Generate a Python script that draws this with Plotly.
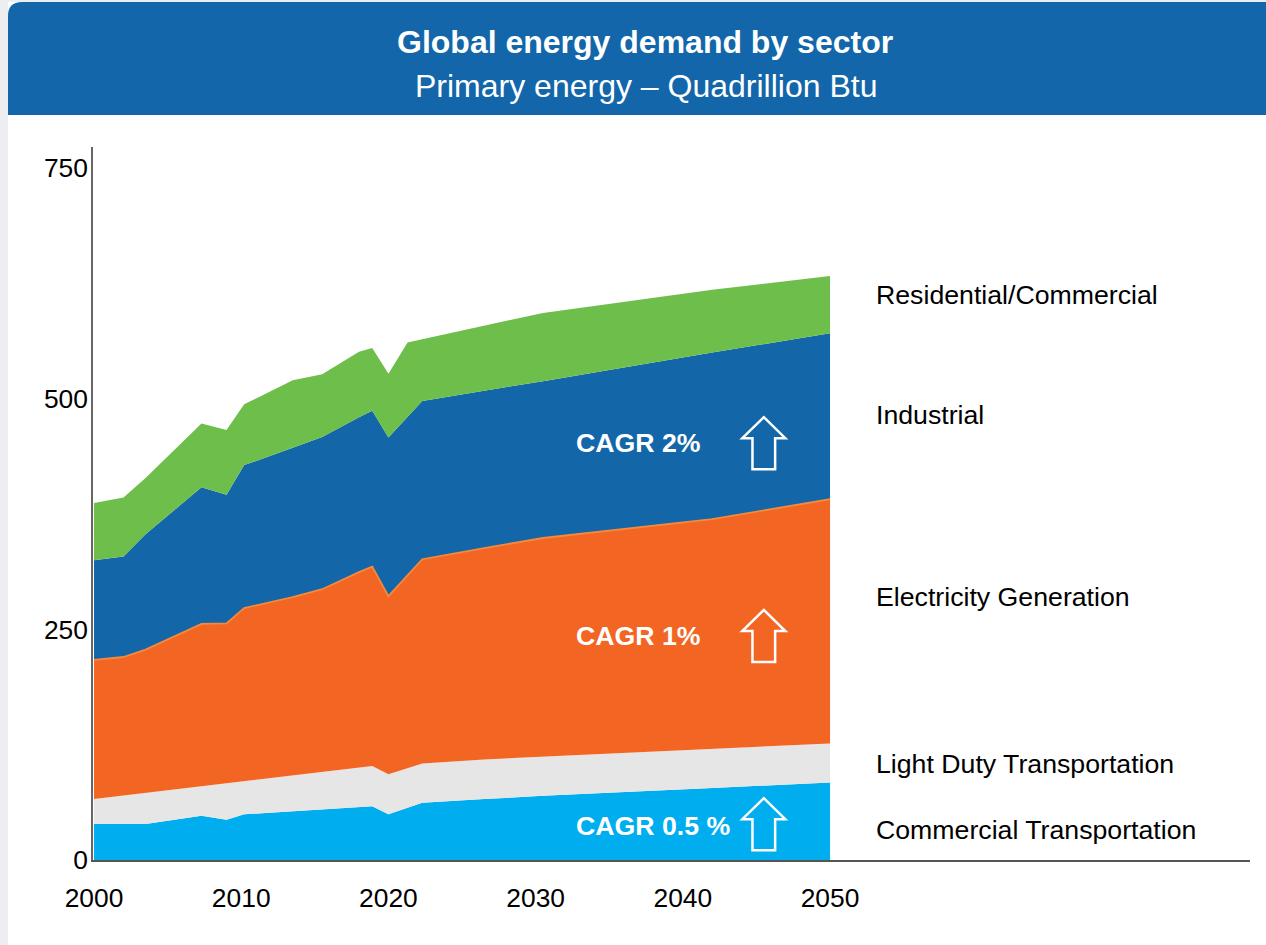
import plotly.graph_objects as go

# ---- data (Quadrillion Btu) ----
years = [2000, 2002, 2003.5, 2007.3, 2009, 2010.2, 2013.5, 2015.5, 2018, 2018.9,
         2020, 2021.3, 2022.3, 2026.5, 2030.5, 2042, 2050]
commercial_transport = [39, 39, 39, 48, 43.5, 49.5, 52.8, 54.8, 57.4, 58.2,
                        49.5, 56.6, 62, 66, 69.6, 78, 84]
light_duty_transport = [27, 30.8, 33.7, 31.9, 39.7, 36, 39, 40.8, 43, 43.8,
                        43.5, 42.9, 42.5, 43, 42.4, 42.5, 42.4]
electricity_generation = [151, 150.2, 155.3, 176.1, 173.3, 187.5, 193.2, 197.9, 211.6, 216,
                          193, 209.1, 221.5, 229, 237, 249, 264.6]
industrial = [108, 109, 125, 148, 139.5, 155, 161.7, 165.1, 168, 169,
              172, 171.7, 171.5, 170.6, 170, 180.5, 180]
residential_commercial = [62, 64, 61, 69, 70, 66, 73.3, 67.9, 71, 68,
                          69, 80.7, 67, 70.4, 74, 68, 62]

sector_labels = ["Residential/Commercial", "Industrial", "Electricity Generation",
                 "Light Duty Transportation", "Commercial Transportation"]
label_y = [612, 482, 285, 104, 32.5]

cagr_texts = ["CAGR 2%", "CAGR 1%", "CAGR 0.5 %"]
cagr_y = [452, 243, 37]
arrow_tip_y = [480, 271, 67]

x_ticks = [2000, 2010, 2020, 2030, 2040, 2050]
y_ticks = [0, 250, 500, 750]

# ---- styles ----
FONT = "Liberation Sans, Arial, sans-serif"
C_LIGHTBLUE = "#00aeef"
C_GRAY = "#e6e6e6"
C_ORANGE = "#f36523"
C_BLUE = "#1366a8"
C_GREEN = "#6dbe4b"
HEADER = "#1266a9"

fig = go.Figure()
series = [
    ("Commercial Transportation", commercial_transport, C_LIGHTBLUE, 0, C_LIGHTBLUE),
    ("Light Duty Transportation", light_duty_transport, C_GRAY, 0, C_GRAY),
    ("Electricity Generation", electricity_generation, C_ORANGE, 1.8, "#f6893b"),
    ("Industrial", industrial, C_BLUE, 0, C_BLUE),
    ("Residential/Commercial", residential_commercial, C_GREEN, 0, C_GREEN),
]
for name, vals, col, lw, lc in series:
    fig.add_trace(go.Scatter(
        x=years, y=vals, name=name, mode="lines", stackgroup="one",
        fillcolor=col, line=dict(width=lw, color=lc), hoverinfo="skip",
    ))

# ---- pixel helpers for page decoration ----
L, R, T, B = 93, 1250, 147, 860
def px(x):
    return (x - L) / (R - L)
def py(y):
    return (B - y) / (B - T)

shapes = []
# light gray page edge
shapes.append(dict(type="rect", xref="paper", yref="paper",
                   x0=px(0), x1=px(8), y0=py(945), y1=py(0),
                   fillcolor="#eceef2", line=dict(width=0), layer="below"))
shapes.append(dict(type="rect", xref="paper", yref="paper",
                   x0=px(0), x1=px(1266), y0=py(2), y1=py(0),
                   fillcolor="#eceef2", line=dict(width=0), layer="below"))
# header band with rounded top-left corner
hp = (f"M {px(8)},{py(115)} L {px(8)},{py(16)} Q {px(8)},{py(2)} {px(22)},{py(2)} "
      f"L {px(1266)},{py(2)} L {px(1266)},{py(115)} Z")
shapes.append(dict(type="path", xref="paper", yref="paper", path=hp,
                   fillcolor=HEADER, line=dict(width=0)))

# outlined up arrows
xc = 2045.5
hw, sw, hh, th = 1.46, 0.77, 22.8, 56.4
for yt in arrow_tip_y:
    pts = [(xc, yt), (xc + hw, yt - hh), (xc + sw, yt - hh), (xc + sw, yt - th),
           (xc - sw, yt - th), (xc - sw, yt - hh), (xc - hw, yt - hh)]
    path = "M " + " L ".join(f"{a},{b}" for a, b in pts) + " Z"
    shapes.append(dict(type="path", xref="x", yref="y", path=path,
                       fillcolor="rgba(0,0,0,0)", line=dict(color="white", width=2.5)))

annotations = [
    dict(text="<b>Global energy demand by sector</b>", xref="paper", yref="paper",
         x=px(645), y=py(42), showarrow=False, xanchor="center", yanchor="middle",
         font=dict(family=FONT, size=32, color="white")),
    dict(text="Primary energy – Quadrillion Btu", xref="paper", yref="paper",
         x=px(646), y=py(86), showarrow=False, xanchor="center", yanchor="middle",
         font=dict(family=FONT, size=32, color="white")),
]
for t, yv in zip(sector_labels, label_y):
    annotations.append(dict(text=t, xref="x", yref="y", x=2053.0, y=yv, showarrow=False,
                            xanchor="left", yanchor="middle",
                            font=dict(family=FONT, size=26.7, color="black")))
for t, yv in zip(cagr_texts, cagr_y):
    annotations.append(dict(text=f"<b>{t}</b>", xref="x", yref="y", x=2032.6, y=yv,
                            showarrow=False, xanchor="left", yanchor="middle",
                            font=dict(family=FONT, size=26.7, color="white")))

fig.update_layout(
    width=1266, height=945,
    margin=dict(l=L, r=1266 - R, t=T, b=945 - B),
    paper_bgcolor="white", plot_bgcolor="white",
    showlegend=False,
    shapes=shapes, annotations=annotations,
    font=dict(family=FONT, size=26, color="black"),
    xaxis=dict(range=[1999.93, 2078.53], tickvals=x_ticks, showgrid=False, zeroline=False,
               showline=True, linecolor="#555555", linewidth=1.5, ticks="",
               ticklabelstandoff=14, tickfont=dict(family=FONT, size=26.4, color="black")),
    yaxis=dict(range=[0, 772.8], tickvals=y_ticks, showgrid=False, zeroline=False,
               showline=True, linecolor="#666666", linewidth=1.5, ticks="",
               ticklabelstandoff=-2, tickfont=dict(family=FONT, size=26.4, color="black")),
)

fig.write_html("out.html", config={"displayModeBar": False},
               post_script="document.body.style.margin='0';")
